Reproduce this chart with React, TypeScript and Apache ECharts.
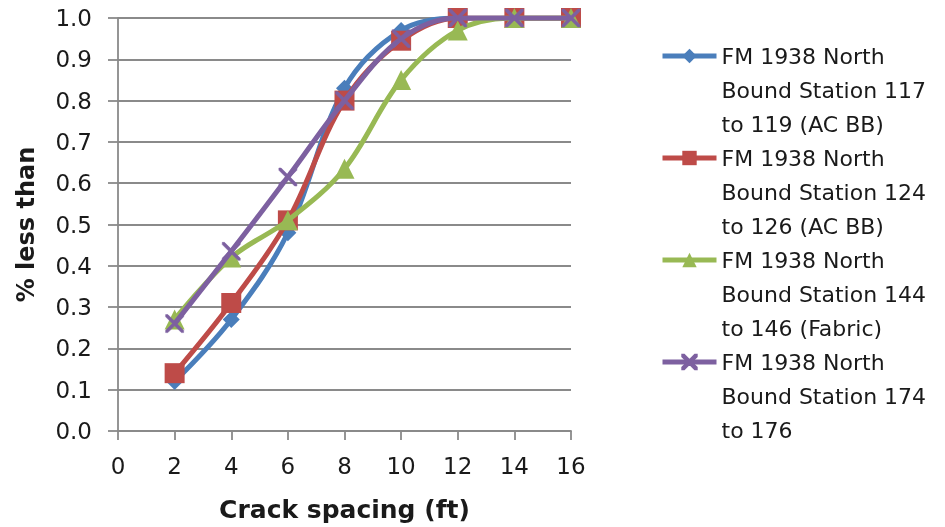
import React, { useEffect, useRef } from "react";
import * as echarts from "echarts";

const xValues = [2, 4, 6, 8, 10, 12, 14, 16];
const seriesNames = [
  "FM 1938 North\nBound Station 117\nto 119 (AC BB)",
  "FM 1938 North\nBound Station 124\nto 126 (AC BB)",
  "FM 1938 North\nBound Station 144\nto 146 (Fabric)",
  "FM 1938 North\nBound Station 174\nto 176",
];
const station117 = [0.12, 0.27, 0.48, 0.83, 0.97, 1.0, 1.0, 1.0];
const station124 = [0.14, 0.31, 0.51, 0.8, 0.945, 1.0, 1.0, 1.0];
const station144 = [0.27, 0.42, 0.51, 0.635, 0.85, 0.97, 1.0, 1.0];
const station174 = [0.26, 0.435, 0.615, 0.8, 0.95, 1.0, 1.0, 1.0];
const yTickLabels = ["0.0", "0.1", "0.2", "0.3", "0.4", "0.5", "0.6", "0.7", "0.8", "0.9", "1.0"];

const colors = ["#4A7EBB", "#BE4B48", "#98B954", "#7D60A0"];
const xSymbol =
  "path://M0,0 L2.5,0 L10,7.5 L17.5,0 L20,0 L20,2.5 L12.5,10 L20,17.5 L20,20 L17.5,20 L10,12.5 L2.5,20 L0,20 L0,17.5 L7.5,10 L0,2.5 Z";

export default function App() {
  const ref = useRef<HTMLDivElement>(null);
  useEffect(() => {
    if (!ref.current) return;
    const chart = echarts.init(ref.current, null, { renderer: "svg" });
    const all = [station117, station124, station144, station174];
    const symbols = ["diamond", "rect", "triangle", xSymbol];
    const sizes = [17, 20, 20, 18];
    const font = "'DejaVu Sans', sans-serif";
    const grid = "#8a8a8a";
    chart.setOption({
      animation: false,
      color: colors,
      textStyle: { fontFamily: font },
      grid: { left: 118, right: 374, top: 18, bottom: 95, containLabel: false },
      legend: {
        orient: "vertical",
        left: 660,
        top: -29,
        padding: 0,
        itemGap: -68,
        itemWidth: 54,
        itemHeight: 18,
        data: seriesNames,
        lineStyle: { width: 5 },
        formatter: (n: string) => " \n \n" + n,
        textStyle: {
          fontSize: 22,
          lineHeight: 34,
          color: "#1a1a1a",
          fontFamily: font,
        },
      },
      xAxis: {
        type: "value",
        min: 0,
        max: 16,
        interval: 2,
        name: "Crack spacing (ft)",
        nameLocation: "middle",
        nameGap: 66,
        nameTextStyle: { fontSize: 25, fontWeight: "bold", color: "#1a1a1a", fontFamily: font },
        axisLine: { show: true, lineStyle: { color: grid, width: 1.8 } },
        axisTick: { show: true, length: 9, inside: false, lineStyle: { color: grid, width: 1.8 } },
        axisLabel: { fontSize: 23, color: "#1a1a1a", margin: 23 },
        splitLine: { show: false },
      },
      yAxis: {
        type: "value",
        min: 0,
        max: 1,
        interval: 0.1,
        name: "% less than",
        nameLocation: "middle",
        nameGap: 80,
        nameRotate: 90,
        nameTextStyle: { fontSize: 24, fontWeight: "bold", color: "#1a1a1a", fontFamily: font },
        axisLine: { show: true, lineStyle: { color: grid, width: 1.8 } },
        axisTick: { show: true, length: 10, lineStyle: { color: grid, width: 1.8 } },
        axisLabel: {
          fontSize: 23,
          color: "#1a1a1a",
          margin: 26,
          formatter: (v: number) => yTickLabels[Math.round(v * 10)],
        },
        splitLine: { show: true, lineStyle: { color: grid, width: 1.8 } },
      },
      series: all.map((vals, i) => ({
        name: seriesNames[i],
        type: "line",
        smooth: 0.35,
        data: xValues.map((x, j) => [x, vals[j]]),
        symbol: symbols[i],
        symbolSize: sizes[i],
        lineStyle: { width: 5, color: colors[i] },
        itemStyle: { color: colors[i], borderColor: colors[i], borderWidth: i === 3 ? 0.5 : 0 },
        z: 2 + i,
      })),
    });
    return () => chart.dispose();
  }, []);
  return (
    <div
      ref={ref}
      style={{ position: "fixed", left: 0, top: 0, width: 945, height: 527 }}
    />
  );
}
